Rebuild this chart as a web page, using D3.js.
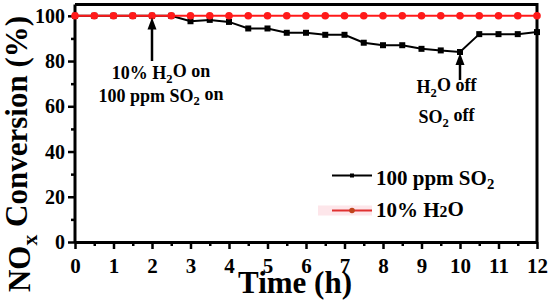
<!DOCTYPE html>
<html><head><meta charset="utf-8">
<script src="https://cdn.jsdelivr.net/npm/d3@7"></script>
<style>html,body{margin:0;padding:0;background:#fff;}</style>
</head>
<body><svg id="c" width="550" height="303"></svg>
<script>
const times = [0,0.5,1,1.5,2,2.5,3,3.5,4,4.5,5,5.5,6,6.5,7,7.5,8,8.5,9,9.5,10,10.5,11,11.5,12];
const so2 = [100,100,100,100,100,100,97.6,98.2,97.3,94.4,94.4,92.5,92.5,91.6,91.6,88.1,87.0,87.0,85.4,84.7,84.0,91.9,91.9,91.9,92.8];
const h2o = [100,100,100,100,100,100,100,100,100,100,100,100,100,100,100,100,100,100,100,100,100,100,100,100,100];
const xMajor = [0,1,2,3,4,5,6,7,8,9,10,11,12];
const xMinor = [0.5,1.5,2.5,3.5,4.5,5.5,6.5,7.5,8.5,9.5,10.5,11.5];
const yMajor = [0,20,40,60,80,100];
const yMinor = [10,30,50,70,90];

const FONT = "Liberation Serif";
const svg = d3.select("#c");
const L=75, R=537, T=4.5, B=242;
const x = d3.scaleLinear().domain([0,12]).range([L,R]);
const y = d3.scaleLinear().domain([0,105]).range([B,T]);

function styleAxis(g){ g.attr("font-family",FONT).attr("font-weight","bold");
  g.select(".domain").attr("stroke","#000").attr("stroke-width",3);
  g.selectAll(".tick line").attr("stroke","#000").attr("stroke-width",2.5); }
const gx = svg.append("g").attr("transform",`translate(0,${B})`)
  .call(d3.axisBottom(x).tickValues(xMajor).tickSize(7).tickSizeOuter(0).tickPadding(9));
styleAxis(gx);
gx.selectAll(".tick text").attr("font-size",21).attr("fill","#000");
const gxm = svg.append("g").attr("transform",`translate(0,${B})`)
  .call(d3.axisBottom(x).tickValues(xMinor).tickSize(4).tickSizeOuter(0).tickFormat(""));
styleAxis(gxm); gxm.select(".domain").remove();

const gy = svg.append("g").attr("transform",`translate(${L},0)`)
  .call(d3.axisLeft(y).tickValues(yMajor).tickSize(7).tickSizeOuter(0).tickPadding(3));
styleAxis(gy);
gy.select(".domain").attr("d",`M0,${T}V${B}`);
gy.selectAll(".tick text").attr("font-size",20).attr("fill","#000").attr("dy","0.33em");
const gym = svg.append("g").attr("transform",`translate(${L},0)`)
  .call(d3.axisLeft(y).tickValues(yMinor).tickSize(4).tickSizeOuter(0).tickFormat(""));
styleAxis(gym); gym.select(".domain").remove();

svg.append("path").attr("d",`M${L},${T}H${R}V${B}`).attr("fill","none").attr("stroke","#000").attr("stroke-width",3);

const line = d3.line().x(d=>x(d[0])).y(d=>y(d[1]));
const sData = times.map((t,i)=>[t,so2[i]]);
const hData = times.map((t,i)=>[t,h2o[i]]);
svg.append("path").datum(sData).attr("d",line).attr("fill","none").attr("stroke","#000").attr("stroke-width",2);
svg.selectAll(".sq").data(sData).enter().append("rect")
  .attr("x",d=>x(d[0])-3).attr("y",d=>y(d[1])-3).attr("width",6).attr("height",6).attr("fill","#000");
svg.append("path").datum(hData).attr("d",line).attr("fill","none").attr("stroke","#ff1a1a").attr("stroke-width",2);
svg.selectAll(".ci").data(hData).enter().append("circle")
  .attr("cx",d=>x(d[0])).attr("cy",d=>y(d[1])).attr("r",3.8).attr("fill","#ff1a1a");

function arrow(xp, y1, y2){
  svg.append("line").attr("x1",xp).attr("x2",xp).attr("y1",y2).attr("y2",y1+8).attr("stroke","#000").attr("stroke-width",2.5);
  svg.append("path").attr("d",`M${xp},${y1}L${xp-4.5},${y1+12}L${xp+4.5},${y1+12}Z`).attr("fill","#000");
}
arrow(x(2), 17.5, 61);
arrow(x(10), 53, 80);

function txt(attrs, size){ const t = svg.append("text").attr("font-family",FONT).attr("font-weight","bold").attr("fill","#000").attr("font-size",size);
  for (const k in attrs) t.attr(k, attrs[k]); return t; }
function sub(t, main, s, rest){ t.append("tspan").text(main);
  t.append("tspan").attr("font-size","0.7em").attr("dy","0.3em").text(s);
  t.append("tspan").attr("dy","-0.3em").text(rest); }
sub(txt({x:161,y:79,"text-anchor":"middle"},18),"10% H","2","O on");
sub(txt({x:161,y:101.5,"text-anchor":"middle"},18),"100 ppm SO","2"," on");
sub(txt({x:446.5,y:93,"text-anchor":"middle"},18),"H","2","O off");
sub(txt({x:446.5,y:123,"text-anchor":"middle"},18),"SO","2"," off");

sub(txt({transform:"translate(30,154) rotate(-90)","text-anchor":"middle"},31),"NO","x"," Conversion (%)");
txt({x:295,y:293,"text-anchor":"middle"},31).text("Time (h)");

svg.append("line").attr("x1",332).attr("x2",372).attr("y1",175.5).attr("y2",175.5).attr("stroke","#000").attr("stroke-width",2);
svg.append("rect").attr("x",350).attr("y",173.5).attr("width",4).attr("height",4).attr("fill","#000");
sub(txt({x:376,y:185},21),"100 ppm SO","2","");
svg.append("rect").attr("x",318).attr("y",205.5).attr("width",54).attr("height",10).attr("fill","#fde6ea");
svg.append("line").attr("x1",332).attr("x2",372).attr("y1",210.5).attr("y2",210.5).attr("stroke","#e03030").attr("stroke-width",2);
svg.append("circle").attr("cx",352).attr("cy",210.5).attr("r",2.8).attr("fill","#c0441c");
const t2 = txt({x:376,y:216.5},21);
t2.append("tspan").text("10% H"); t2.append("tspan").attr("font-size","0.75em").attr("dy","0.05em").text("2"); t2.append("tspan").attr("dy","-0.05em").text("O");
</script></body></html>
